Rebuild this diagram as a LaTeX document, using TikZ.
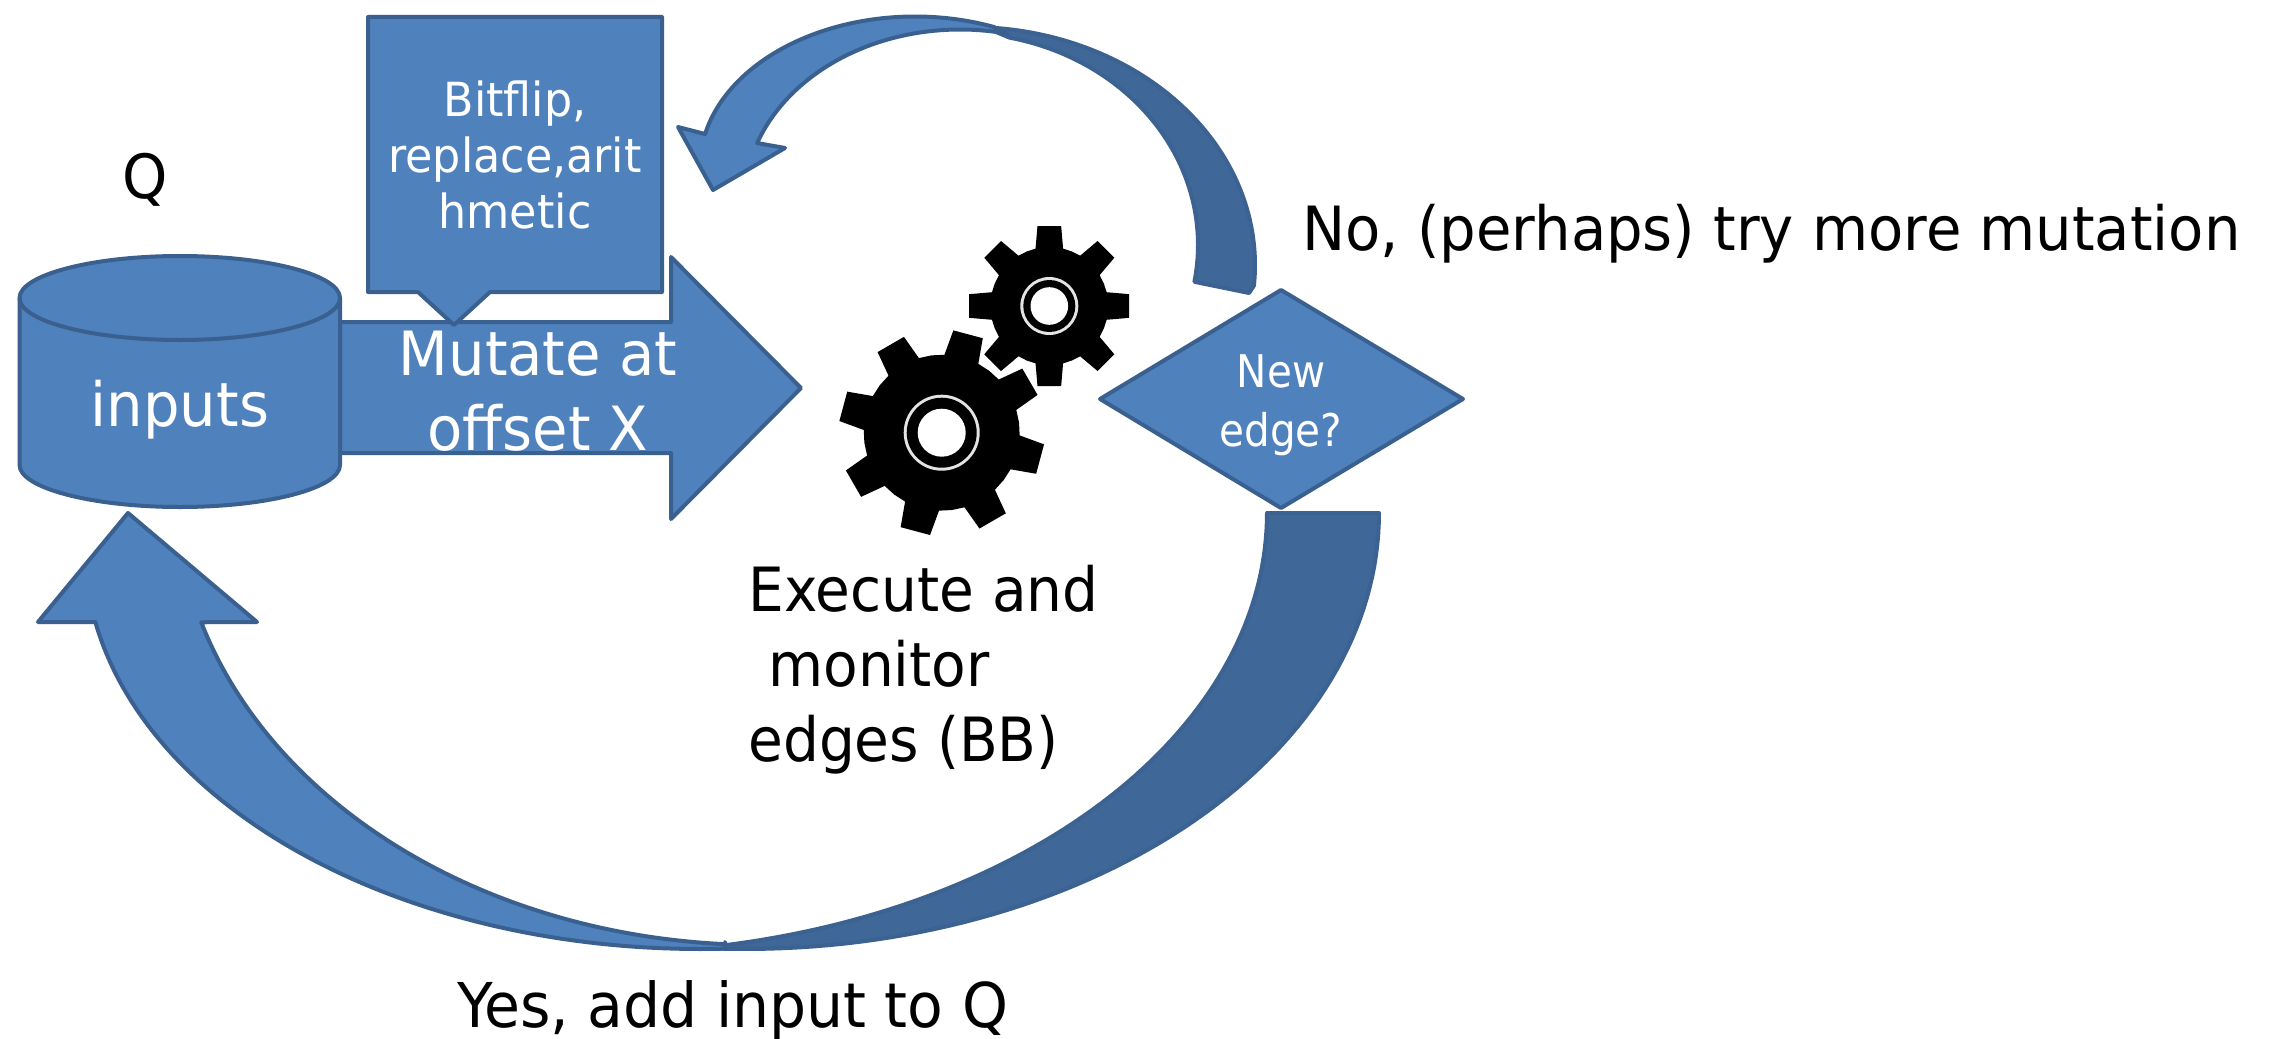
\documentclass[tikz,border=0pt]{standalone}
\usepackage{fontspec}
\setmainfont[FakeStretch=1.05]{DejaVu Sans Condensed}
\newfontfamily\plainfont{DejaVu Sans Condensed}
\newfontfamily\execfont[FakeStretch=1.03]{DejaVu Sans Condensed}
\tikzset{
  x=0.5pt,y=-0.5pt,
  blockshape/.style={draw=edgeblue,fill=mainblue,line width=2pt,line join=round},
  darkshape/.style={draw=darkedge,fill=darkblue,line width=2pt,line join=round},
  bigwhite/.style={text=white,font=\fontsize{30.5}{37.5}\selectfont,align=center,inner sep=0pt},
  smallwhite/.style={text=white,font=\fontsize{23.5}{28}\selectfont,align=center,inner sep=0pt},
  diamondtext/.style={text=white,font=\plainfont\fontsize{22.5}{29.5}\selectfont,align=center,inner sep=0pt},
  blacktext/.style={text=black,font=\fontsize{30.5}{37.5}\selectfont,inner sep=0pt},
  arcpts/.style={samples=70,variable=\t},
}
\definecolor{mainblue}{HTML}{4F81BD}
\definecolor{edgeblue}{HTML}{3A6090}
\definecolor{darkblue}{HTML}{3F6797}
\definecolor{darkedge}{HTML}{3C6292}
\definecolor{hubring}{HTML}{E4E4E4}
\begin{document}
\begin{tikzpicture}
\useasboundingbox (0,0) rectangle (2273,1038);
\fill[white] (0,0) rectangle (2273,1038);

% mutate arrow
\draw[blockshape] (300,322) -- (671,322) -- (671,257) -- (801,388) -- (671,519) -- (671,453) -- (300,453) -- cycle;

% cylinder
\draw[blockshape] (19.5,298) .. controls (19.5,275) and (92,256) .. (180,256)
  .. controls (268,256) and (340,275) .. (340,298) -- (340,465)
  .. controls (340,488) and (268,507) .. (180,507)
  .. controls (92,507) and (19.5,488) .. (19.5,465) -- cycle;
\draw[edgeblue,line width=2pt] (19.5,298) .. controls (19.5,321) and (92,340) .. (180,340)
  .. controls (268,340) and (340,321) .. (340,298);

% callout
\draw[blockshape] (368,17) -- (662,17) -- (662,292) -- (490,292) -- (454,325) -- (418,292) -- (368,292) -- cycle;

% diamond
\draw[blockshape] (1281,290) -- (1463,399) -- (1281,508) -- (1100,399) -- cycle;

% top curved arrow: dark rear, then light front
\draw[darkshape] (1249,293)
  -- plot[arcpts,domain=5:-87] ({970+285*cos(\t)},{265+238*sin(\t)})
  -- plot[arcpts,domain=-78:10] ({960+238*cos(\t)},{245+212*sin(\t)})
  -- cycle;
\draw[blockshape] (705,134)
  -- plot[arcpts,domain=192.5:291.5] ({915+215*cos(\t)},{166.5+150*sin(\t)})
  -- plot[arcpts,domain=282.6:200.1] ({960+216*cos(\t)},{202.5+173*sin(\t)})
  -- (785,148) -- (713,190) -- (678,127) -- cycle;

% bottom curved arrow
\draw[darkshape] (1267,513) -- (1379,513)
  -- plot[arcpts,domain=0:96.2] ({745+634*cos(\t)},{513+436*sin(\t)})
  -- plot[arcpts,domain=79.2:0] ({600+667*cos(\t)},{513+440*sin(\t)})
  -- cycle;
\draw[blockshape] (725,942)
  -- plot[arcpts,domain=93.4:163.1] ({760+584*cos(\t)},{490+455*sin(\t)})
  -- (257,622) -- (128,513) -- (38,622) -- (95,622)
  -- plot[arcpts,domain=169.5:87.6] ({700+615*cos(\t)},{549+400*sin(\t)})
  -- cycle;

% large gear
\begin{scope}[shift={(941.7,432.7)}]
  \fill[black] (-30-13:78)
    \foreach \a in {-30,15,...,285} {
      -- (\a-13:78) -- (\a-8.5:103) -- (\a+8.5:103) -- (\a+13:78) -- (\a+22.5:78)
    } -- cycle;
  \fill[hubring] (0,0) circle [radius=19pt];
  \fill[black] (0,0) circle [radius=17.5pt];
  \fill[white] (0,0) circle [radius=12pt];
\end{scope}

% small gear, cut off at its top and right sides
\begin{scope}
  \clip (960,226) rectangle (1129,395);
  \begin{scope}[shift={(1049.3,306)}]
    \fill[black,preaction={draw=white,line width=3.5pt,line join=round}] (-13.5:59)
      \foreach \a in {0,45,...,315} {
        -- (\a-13.5:59) -- (\a-8.4:81) -- (\a+8.4:81) -- (\a+13.5:59) -- (\a+22.5:59)
      } -- cycle;
    \fill[hubring] (0,0) circle [radius=14.5pt];
    \fill[black] (0,0) circle [radius=13pt];
    \fill[white] (0,0) circle [radius=9.4pt];
  \end{scope}
\end{scope}

% text
\node[blacktext] (qlabel) at (145,180) {Q};
\node[bigwhite] (inputs) at (180,410) {inputs};
\node[bigwhite] (mutate) at (538,391) {Mutate at\\offset X};
\node[smallwhite] (bitflip) at (515,155) {Bitflip,\\replace,arit\\hmetic};
\node[diamondtext] (newedge) at (1281,405) {New\\edge?};
\node[blacktext,align=left,anchor=north west,font=\execfont\fontsize{30.5}{37.5}\selectfont] (execute) at (748,565) {Execute and\\\hspace*{10pt}monitor\\edges (BB)};
\node[blacktext,anchor=west] (nolabel) at (1302,234) {No, (perhaps) try more mutation};
\node[blacktext,anchor=west,font=\fontsize{30.9}{37.5}\selectfont] (yeslabel) at (457,1010) {Yes, add input to Q};
\end{tikzpicture}
\end{document}
